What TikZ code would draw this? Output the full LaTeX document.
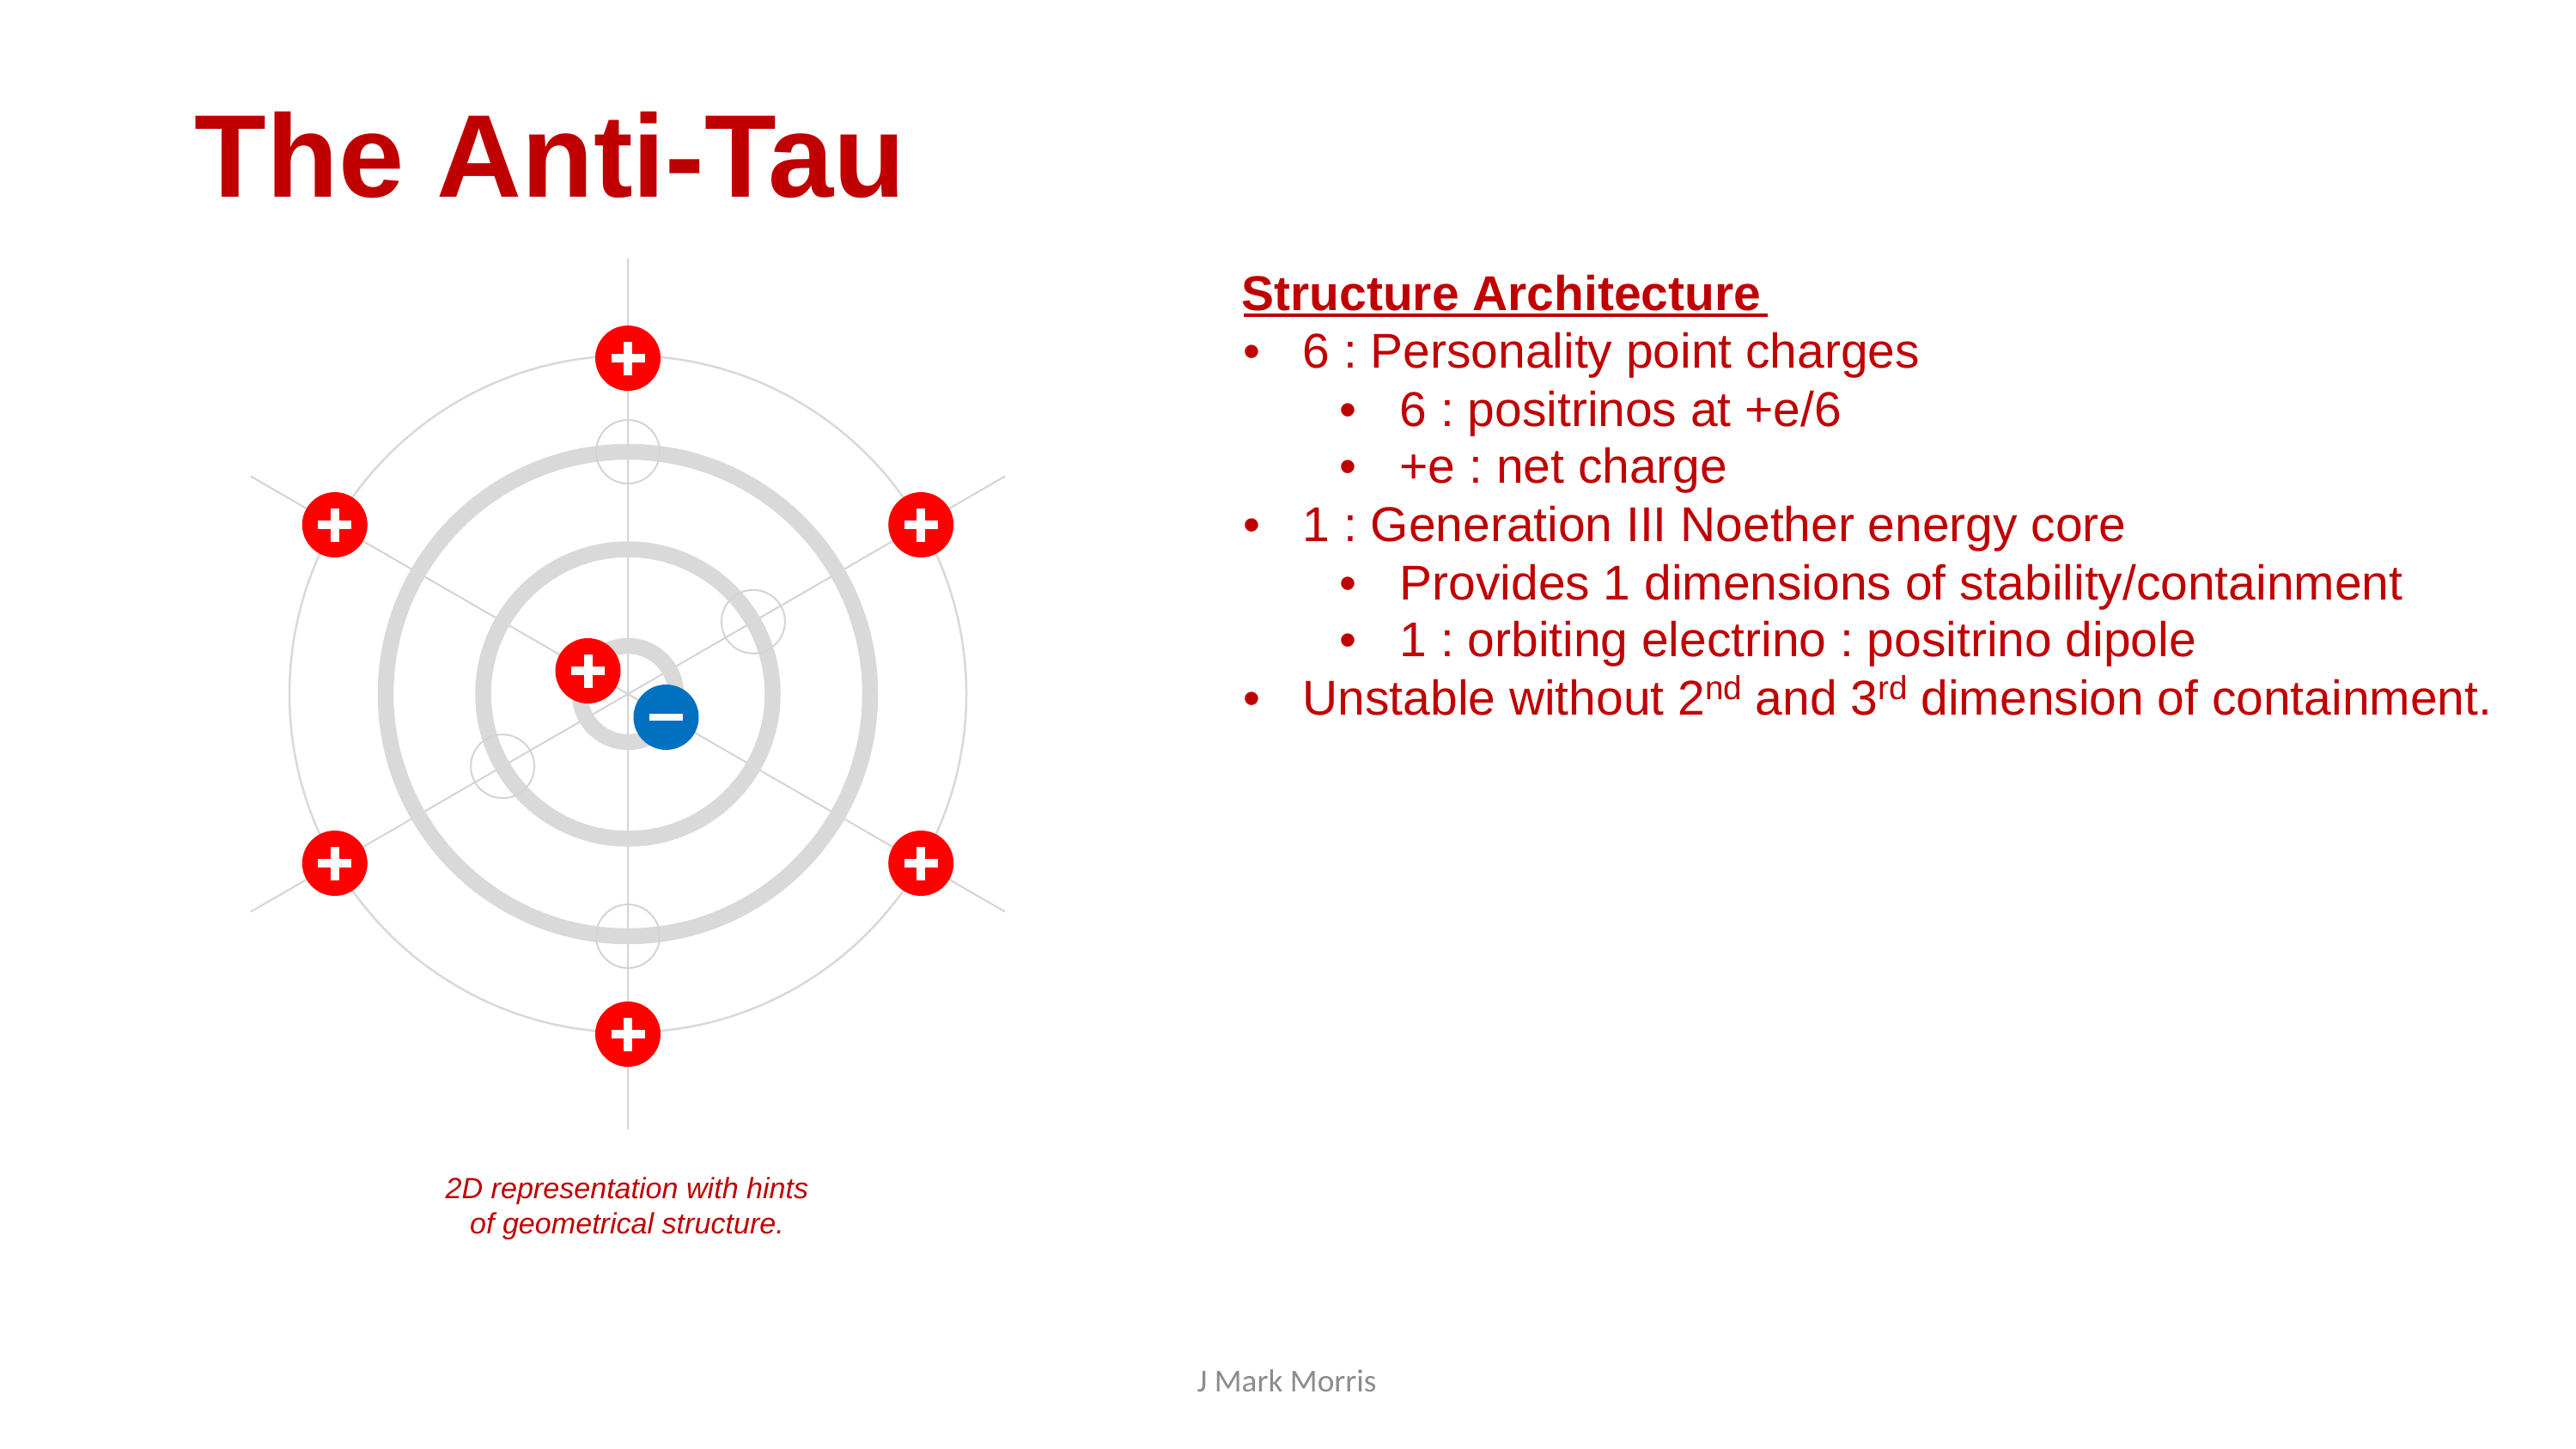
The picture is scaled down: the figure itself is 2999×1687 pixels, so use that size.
\documentclass[tikz,border=0pt]{standalone}
\usepackage{fontspec}
\setmainfont{Liberation Sans}
\newfontfamily\footfont{Carlito}
\usetikzlibrary{calc}
\definecolor{txtred}{HTML}{C00000}
\definecolor{chgred}{HTML}{FF0000}
\definecolor{chgblue}{HTML}{0070C0}
\definecolor{ringgray}{HTML}{D9D9D9}
\definecolor{linegray}{HTML}{D4D4D4}
\definecolor{footgray}{HTML}{8C8C8C}
\newcommand{\supx}[1]{\raisebox{4.9pt}{\fontsize{11pt}{12pt}\selectfont #1}}
\frenchspacing
\begin{document}
\frenchspacing
\begin{tikzpicture}[x=0.1mm, y=-0.1mm,
  spoke/.style={draw=linegray, line width=0.2mm},
  ring/.style={draw=ringgray, line width=1.85mm},
  hint/.style={draw=linegray, line width=0.2mm},
  poschg/.style={circle, fill=chgred, minimum size=7.6mm, inner sep=0pt,
    path picture={
      \fill[white] ($(path picture bounding box.center)+(-19.5,-5)$) rectangle +(39,10);
      \fill[white] ($(path picture bounding box.center)+(-5,-19.5)$) rectangle +(10,39);}},
  negchg/.style={circle, fill=chgblue, minimum size=7.6mm, inner sep=0pt,
    path picture={
      \fill[white] ($(path picture bounding box.center)+(-19.5,-4.3)$) rectangle +(39,8.6);}},
  body/.style={text=txtred, font=\frenchspacing\fontsize{16.2pt}{19pt}\selectfont, anchor=base west, inner sep=0pt},
  caption/.style={text=txtred, font=\itshape\fontsize{9.7pt}{11pt}\selectfont, anchor=base, inner sep=0pt},
]
% page
\fill[white] (0,0) rectangle (2999,1687);
\useasboundingbox (0,0) rectangle (2999,1687);

% title
\node[anchor=base west, inner sep=0pt, text=txtred,
      font=\bfseries\fontsize{39pt}{45pt}\selectfont] (title) at (226,229) {The Anti-Tau};

% geometry of the particle
\coordinate (c) at (731,808);
\coordinate (s90a) at ($(c)+(0,-507)$);
\coordinate (s90b) at ($(c)+(0,507)$);
\coordinate (s30a) at ($(c)+(439.1,-253.5)$);
\coordinate (s30b) at ($(c)+(-439.1,253.5)$);
\coordinate (s150a) at ($(c)+(-439.1,-253.5)$);
\coordinate (s150b) at ($(c)+(439.1,253.5)$);
\draw[spoke] (s90a) -- (s90b);
\draw[spoke] (s30a) -- (s30b);
\draw[spoke] (s150a) -- (s150b);

\draw[draw=ringgray, line width=0.25mm] (c) circle[radius=394];
\draw[ring] (c) circle[radius=282];
\draw[ring] (c) circle[radius=168.5];
\draw[ring] (c) circle[radius=56];

% hints of structure on the orbits
\draw[hint] ($(c)+(0,-282)$) circle[radius=37];
\draw[hint] ($(c)+(0,282)$) circle[radius=37];
\draw[hint] ($(c)+(145.9,-84.2)$) circle[radius=37];
\draw[hint] ($(c)+(-145.9,84.2)$) circle[radius=37];

% six outer positrinos
\node[poschg] (p1) at ($(c)+(0,-391)$) {};
\node[poschg] (p2) at ($(c)+(341.2,-197)$) {};
\node[poschg] (p3) at ($(c)+(341.2,197)$) {};
\node[poschg] (p4) at ($(c)+(0,396)$) {};
\node[poschg] (p5) at ($(c)+(-341.2,197)$) {};
\node[poschg] (p6) at ($(c)+(-341.2,-197)$) {};

% core dipole
\node[poschg] (pin) at ($(c)+(-46.5,-27)$) {};
\node[negchg] (nin) at ($(c)+(44.5,27)$) {};

% caption
\node[caption] (cap1) at (730,1395) {2D representation with hints};
\node[caption] (cap2) at (730,1436) {of geometrical structure.};

% text block
\node[body, font=\bfseries\fontsize{16.2pt}{19pt}\selectfont] (hdr) at (1445,361) {Structure Architecture};
\draw[txtred, line width=0.4mm] ($(hdr.base west)+(3,6)$) -- ++(610,0);

\node[body] (b1) at (1447,428) {•};
\node[body] (t1) at (1516,428) {6 : Personality point charges};
\node[body] (b2) at (1559,496) {•};
\node[body] (t2) at (1629,496) {6 : positrinos at +e/6};
\node[body] (b3) at (1559,562) {•};
\node[body] (t3) at (1629,562) {+e : net charge};
\node[body] (b4) at (1447,630) {•};
\node[body] (t4) at (1516,630) {1 : Generation III Noether energy core};
\node[body] (b5) at (1559,698) {•};
\node[body] (t5) at (1629,698) {Provides 1 dimensions of stability/containment};
\node[body] (b6) at (1559,764) {•};
\node[body] (t6) at (1629,764) {1 : orbiting electrino : positrino dipole};
\node[body] (b7) at (1447,832) {•};
\node[body] (t7) at (1516,832) {Unstable without 2\supx{nd} and 3\supx{rd} dimension of containment.};

% footer
\node[anchor=base, inner sep=0pt, text=footgray, font=\footfont\fontsize{10.6pt}{12pt}\selectfont] (foot) at (1498,1620) {J Mark Morris};
\end{tikzpicture}
\end{document}
